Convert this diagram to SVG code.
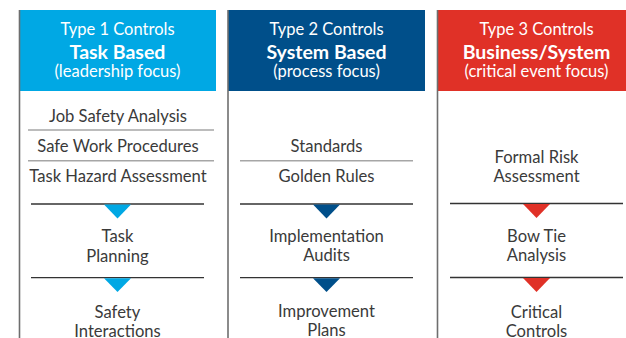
<svg xmlns="http://www.w3.org/2000/svg" width="626" height="338" viewBox="0 0 626 338">
<style>
text{font-family:Lato,"Open Sans","Liberation Sans",sans-serif;text-anchor:middle}
.h1{fill:#fff;font-size:16.5px}
.h2{fill:#fff;font-size:19.5px;font-weight:bold}
.h3{fill:#fff;font-size:16.5px}
.t{fill:#3a3a3a;font-size:16.6px}
.border{stroke:#6e6e6e;stroke-width:1.6}
.sep{stroke:#a6a6a6;stroke-width:1.4}
.ln{stroke:#333;stroke-width:1.3}
</style>
<rect width="626" height="338" fill="#fff"/>
<g id="column1">
<rect x="19" y="10" width="197" height="81" fill="#00a8e4"/>
<line class="border" x1="19.5" y1="10" x2="19.5" y2="338"/>
<text class="h1" x="117.5" y="35">Type 1 Controls</text>
<text class="h2" x="117.5" y="58.5">Task Based</text>
<text class="h3" x="117.5" y="77">(leadership focus)</text>
</g>
<g id="column2">
<rect x="228" y="10" width="197" height="81" fill="#004f8a"/>
<line class="border" x1="228" y1="10" x2="228" y2="338"/>
<text class="h1" x="326.5" y="35">Type 2 Controls</text>
<text class="h2" x="326.5" y="58.5">System Based</text>
<text class="h3" x="326.5" y="77">(process focus)</text>
</g>
<g id="column3">
<rect x="438" y="10" width="198" height="81" fill="#e03127"/>
<line class="border" x1="437.5" y1="10" x2="437.5" y2="338"/>
<text class="h1" x="536.5" y="35">Type 3 Controls</text>
<text class="h2" x="536.5" y="58.5">Business/System</text>
<text class="h3" x="536.5" y="77">(critical event focus)</text>
</g>
<g id="n-jsa"><text class="t" x="118" y="121.7">Job Safety Analysis</text></g>
<g id="n-swp"><text class="t" x="118" y="152.3">Safe Work Procedures</text></g>
<g id="n-tha"><text class="t" x="118" y="181.7">Task Hazard Assessment</text></g>
<g id="n-tp"><text class="t" x="117.5" y="242">Task</text><text class="t" x="117.5" y="261.5">Planning</text></g>
<g id="n-si"><text class="t" x="117.5" y="318">Safety</text><text class="t" x="117.5" y="336.5">Interactions</text></g>
<g id="n-std"><text class="t" x="326.5" y="151.7">Standards</text></g>
<g id="n-gr"><text class="t" x="326.5" y="181.7">Golden Rules</text></g>
<g id="n-ia"><text class="t" x="326.5" y="241.7">Implementation</text><text class="t" x="326.5" y="260.5">Audits</text></g>
<g id="n-ip"><text class="t" x="326.5" y="316.7">Improvement</text><text class="t" x="326.5" y="335.5">Plans</text></g>
<g id="n-fra"><text class="t" x="536.5" y="162.7">Formal Risk</text><text class="t" x="536.5" y="181.7">Assessment</text></g>
<g id="n-bta"><text class="t" x="536.5" y="241.7">Bow Tie</text><text class="t" x="536.5" y="260.5">Analysis</text></g>
<g id="n-cc"><text class="t" x="536.5" y="318">Critical</text><text class="t" x="536.5" y="336.5">Controls</text></g>
<g id="separators">
<line class="sep" x1="28" y1="130" x2="214" y2="130"/>
<line class="sep" x1="28" y1="160.7" x2="214" y2="160.7"/>
<line class="sep" x1="240" y1="160.7" x2="413" y2="160.7"/>
</g>
<g id="connectors">
<line class="ln" x1="31" y1="204" x2="204" y2="204"/>
<path d="M104 204.5 L131 204.5 L117.5 218.5 Z" fill="#00a8e4"/>
<line class="ln" x1="31" y1="277.7" x2="204" y2="277.7"/>
<path d="M104 278.2 L131 278.2 L117.5 292 Z" fill="#00a8e4"/>
<line class="ln" x1="240" y1="204" x2="413" y2="204"/>
<path d="M313 204.5 L340 204.5 L326.5 218.5 Z" fill="#004f8a"/>
<line class="ln" x1="240" y1="277.7" x2="413" y2="277.7"/>
<path d="M313 278.2 L340 278.2 L326.5 292 Z" fill="#004f8a"/>
<line class="ln" x1="450" y1="203.5" x2="623" y2="203.5"/>
<path d="M523 204 L550 204 L536.5 218 Z" fill="#e03127"/>
<line class="ln" x1="450" y1="277.5" x2="623" y2="277.5"/>
<path d="M523 278 L550 278 L536.5 292 Z" fill="#e03127"/>
</g>
</svg>
